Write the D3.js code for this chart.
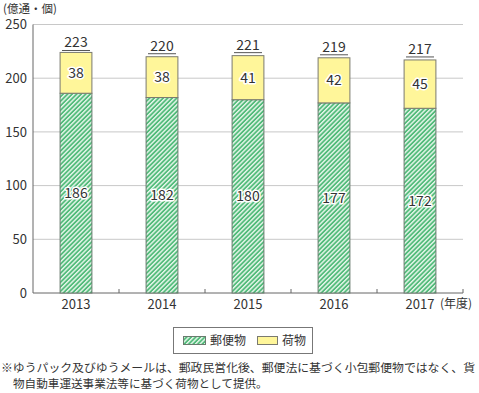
<!DOCTYPE html>
<html><head><meta charset="utf-8">
<script src="https://cdn.jsdelivr.net/npm/d3@7"></script>
<style>body{margin:0;background:#fff;font-family:"Noto Sans CJK JP","Noto Sans",sans-serif;}</style>
</head><body>
<svg id="c" width="479" height="393"></svg>
<script>
const years = ["2013","2014","2015","2016","2017"];
const mail = [186,182,180,177,172];
const parcel = [38,38,41,42,45];
const totals = [223,220,221,219,217];
const yTicks = [0,50,100,150,200,250];
const seriesNames = ["郵便物","荷物"];

const svg = d3.select("#c");
const font = '"Noto Sans CJK JP","Noto Sans",sans-serif';
const m = {l:33, r:463, t:24.5, b:293};
const x = d3.scaleBand().domain(years).range([m.l, m.r]).paddingInner(0.63).paddingOuter(0.315);
const xb = d3.scaleLinear().domain([0, years.length]).range([m.l, m.r]);
const y = d3.scaleLinear().domain([0,250]).range([m.b, m.t]);

const defs = svg.append("defs");
const pat = defs.append("pattern").attr("id","hatch").attr("patternUnits","userSpaceOnUse")
  .attr("width",3.2).attr("height",3.2).attr("patternTransform","rotate(45)");
pat.append("rect").attr("width",3.2).attr("height",3.2).attr("fill","#52bb7a");
pat.append("rect").attr("x",0).attr("width",1.4).attr("height",3.2).attr("fill","#e8f7ec");

// grid
svg.append("g").selectAll("line").data(yTicks.filter(d=>d>0)).join("line")
  .attr("x1",m.l).attr("x2",m.r).attr("y1",d=>y(d)).attr("y2",d=>y(d))
  .attr("stroke","#c8c8c8").attr("stroke-width",1);

// y labels
svg.append("g").selectAll("text").data(yTicks).join("text")
  .attr("x",27).attr("y",d=>y(d)).attr("dy","0.36em").attr("text-anchor","end")
  .attr("font-family",font).attr("font-size",13).attr("fill","#333").text(d=>d);

// axes lines
svg.append("line").attr("x1",m.l).attr("x2",m.l).attr("y1",m.t).attr("y2",m.b).attr("stroke","#666");
svg.append("line").attr("x1",m.l).attr("x2",m.r).attr("y1",m.b).attr("y2",m.b).attr("stroke","#666");
svg.append("g").selectAll("line").data(d3.range(1, years.length+1)).join("line")
  .attr("x1",d=>xb(d)).attr("x2",d=>xb(d)).attr("y1",m.b).attr("y2",m.b-4).attr("stroke","#666");

// bars
const g = svg.append("g");
years.forEach((yr,i)=>{
  const bx = x(yr), bw = x.bandwidth();
  g.append("rect").attr("x",bx).attr("y",y(mail[i])).attr("width",bw).attr("height",y(0)-y(mail[i]))
    .attr("fill","url(#hatch)").attr("stroke","#6a7a6e").attr("stroke-width",1);
  g.append("rect").attr("x",bx).attr("y",y(mail[i]+parcel[i])).attr("width",bw).attr("height",y(mail[i])-y(mail[i]+parcel[i]))
    .attr("fill","#fff69a").attr("stroke","#7a7a70").attr("stroke-width",1);
  const cx = bx + bw/2;
  const lbl = (v, yy)=>{
    g.append("text").attr("x",cx).attr("y",yy).attr("dy","0.36em").attr("text-anchor","middle")
      .attr("font-family",font).attr("font-size",14).attr("fill","#333")
      .attr("stroke","#fff").attr("stroke-width",3).attr("paint-order","stroke").attr("stroke-linejoin","round").text(v);
  };
  lbl(mail[i], y(mail[i]/2));
  lbl(parcel[i], y(mail[i]+parcel[i]/2));
  const ty = y(totals[i]);
  g.append("text").attr("x",cx).attr("y",ty-6).attr("text-anchor","middle")
    .attr("font-family",font).attr("font-size",14).attr("fill","#333").text(totals[i]);
  g.append("line").attr("x1",cx-14).attr("x2",cx+14).attr("y1",ty-3).attr("y2",ty-3).attr("stroke","#555").attr("stroke-width",1);
  svg.append("text").attr("x",cx).attr("y",304).attr("dy","0.36em").attr("text-anchor","middle")
    .attr("font-family",font).attr("font-size",13).attr("fill","#333").text(yr);
});

svg.append("text").attr("x",440).attr("y",304).attr("dy","0.36em").attr("font-family",font)
  .attr("font-size",12).attr("fill","#333").text("(年度)");
svg.append("text").attr("x",3).attr("y",8.5).attr("dy","0.36em").attr("font-family",font)
  .attr("font-size",11.5).attr("fill","#333").text("(億通・個)");

// legend
const lg = svg.append("g");
lg.append("rect").attr("x",173.5).attr("y",327.5).attr("width",139).attr("height",26).attr("fill","#fff").attr("stroke","#777");
lg.append("rect").attr("x",183.5).attr("y",336.5).attr("width",22).attr("height",8).attr("fill","url(#hatch)").attr("stroke","#6a7a6e");
lg.append("text").attr("x",210).attr("y",340.5).attr("dy","0.36em").attr("font-family",font).attr("font-size",12).attr("fill","#333").text(seriesNames[0]);
lg.append("rect").attr("x",257.5).attr("y",336.5).attr("width",20).attr("height",8).attr("fill","#fff69a").attr("stroke","#7a7a70");
lg.append("text").attr("x",282).attr("y",340.5).attr("dy","0.36em").attr("font-family",font).attr("font-size",12).attr("fill","#333").text(seriesNames[1]);

// footnote
svg.append("text").attr("x",1).attr("y",368).attr("dy","0.36em").attr("font-family",font).attr("font-size",11.6).attr("fill","#333")
  .attr("textLength",474).attr("lengthAdjust","spacingAndGlyphs")
  .text("※ゆうパック及びゆうメールは、郵政民営化後、郵便法に基づく小包郵便物ではなく、貨");
svg.append("text").attr("x",13).attr("y",384).attr("dy","0.36em").attr("font-family",font).attr("font-size",11.6).attr("fill","#333")
  .text("物自動車運送事業法等に基づく荷物として提供。");
</script>
</body></html>
